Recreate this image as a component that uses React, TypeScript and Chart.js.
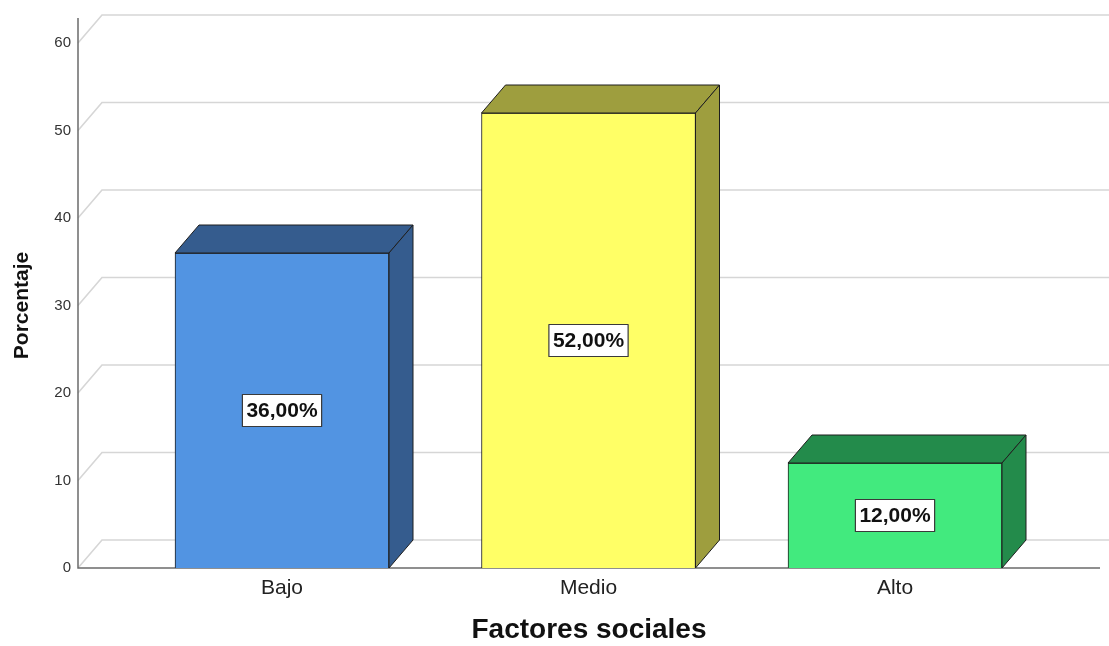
import React, { useEffect, useRef } from "react";
import { Chart, registerables } from "chart.js";

Chart.register(...registerables);

const categories = ["Bajo", "Medio", "Alto"];
const percentages = [36, 52, 12];
const valueLabels = ["36,00%", "52,00%", "12,00%"];
const yTickValues = [0, 10, 20, 30, 40, 50, 60];
const frontColors = ["#5294e2", "#ffff66", "#42ea7e"];
const sideColors = ["#355c8e", "#9e9e3e", "#238b4b"];

const DX = 24;
const DY = 28;
const FONT = "'Liberation Sans', Arial, Helvetica, sans-serif";

const depthPlugin = {
  id: "depth3d",
  beforeDatasetsDraw(chart: any) {
    const { ctx, chartArea, scales } = chart;
    const y = scales.y;
    ctx.save();
    ctx.strokeStyle = "#d6d6d6";
    ctx.lineWidth = 1.6;
    for (const v of yTickValues) {
      const py = y.getPixelForValue(v);
      ctx.beginPath();
      ctx.moveTo(chartArea.left, py);
      ctx.lineTo(chartArea.left + DX, py - DY);
      ctx.lineTo(chart.width, py - DY);
      ctx.stroke();
    }
    ctx.strokeStyle = "#6b6b6b";
    ctx.lineWidth = 1.5;
    ctx.beginPath();
    ctx.moveTo(chartArea.left, y.getPixelForValue(yTickValues[yTickValues.length - 1]) - DY + 3);
    ctx.lineTo(chartArea.left, chartArea.bottom);
    ctx.lineTo(chartArea.right, chartArea.bottom);
    ctx.stroke();
    ctx.restore();
  },
  afterDatasetsDraw(chart: any) {
    const { ctx } = chart;
    const meta = chart.getDatasetMeta(0);
    ctx.save();
    meta.data.forEach((bar: any, i: number) => {
      const { x, y, base, width } = bar.getProps(["x", "y", "base", "width"], true);
      const l = x - width / 2;
      const r = x + width / 2;
      ctx.fillStyle = sideColors[i];
      ctx.strokeStyle = "#1e1e1e";
      ctx.lineWidth = 1;
      ctx.lineJoin = "round";
      // top face
      ctx.beginPath();
      ctx.moveTo(l, y);
      ctx.lineTo(l + DX, y - DY);
      ctx.lineTo(r + DX, y - DY);
      ctx.lineTo(r, y);
      ctx.closePath();
      ctx.fill();
      ctx.stroke();
      // side face
      ctx.beginPath();
      ctx.moveTo(r, y);
      ctx.lineTo(r + DX, y - DY);
      ctx.lineTo(r + DX, base - DY);
      ctx.lineTo(r, base);
      ctx.closePath();
      ctx.fill();
      ctx.stroke();
      // value label
      const cy = (y + base) / 2;
      ctx.font = `bold 21px ${FONT}`;
      const tw = ctx.measureText(valueLabels[i]).width;
      const bw = tw + 8;
      const bh = 32;
      ctx.fillStyle = "#ffffff";
      ctx.fillRect(x - bw / 2, cy - bh / 2, bw, bh);
      ctx.strokeStyle = "#3a3a3a";
      ctx.lineWidth = 1.2;
      ctx.strokeRect(x - bw / 2, cy - bh / 2, bw, bh);
      ctx.fillStyle = "#111111";
      ctx.textAlign = "center";
      ctx.textBaseline = "middle";
      ctx.fillText(valueLabels[i], x, cy + 1);
    });
    ctx.restore();
  },
};

export default function App() {
  const canvasRef = useRef<HTMLCanvasElement | null>(null);

  useEffect(() => {
    const canvas = canvasRef.current;
    if (!canvas) return;
    const chart = new Chart(canvas, {
      type: "bar",
      data: {
        datasets: [
          {
            data: percentages.map((v, i) => ({ x: i, y: v })),
            backgroundColor: frontColors,
            borderColor: "#1e1e1e",
            borderWidth: 1,
            barThickness: 214,
          },
        ],
      },
      options: {
        responsive: false,
        animation: false,
        devicePixelRatio: 1,
        layout: { padding: { left: 0, right: 9, top: 43, bottom: 0 } },
        plugins: {
          legend: { display: false },
          tooltip: { enabled: false },
        },
        scales: {
          x: {
            type: "linear",
            offset: false,
            min: -0.6656,
            max: 2.6688,
            grid: { display: false, drawTicks: false, offset: false },
            border: { display: false },
            afterBuildTicks: (scale: any) => {
              scale.ticks = categories.map((_, i) => ({ value: i }));
            },
            afterFit: (scale: any) => {
              scale.height = 78;
            },
            ticks: {
              padding: 8,
              color: "#222222",
              font: { family: FONT, size: 21 },
              callback: (v: any) => categories[Number(v)] ?? "",
            },
            title: {
              display: true,
              text: "Factores sociales",
              color: "#111111",
              font: { family: FONT, size: 28, weight: "bold", lineHeight: 1.1 },
              padding: { top: 0, bottom: 0 },
            },
          },
          y: {
            min: 0,
            max: 60,
            grid: { display: false, drawTicks: false },
            border: { display: false },
            afterBuildTicks: (scale: any) => {
              scale.ticks = yTickValues.map((v) => ({ value: v }));
            },
            afterFit: (scale: any) => {
              scale.width = 78;
            },
            ticks: {
              padding: 7,
              color: "#333333",
              font: { family: FONT, size: 15 },
            },
            title: {
              display: true,
              text: "Porcentaje",
              color: "#111111",
              font: { family: FONT, size: 21, weight: "bold" },
              padding: { top: 10, bottom: 0 },
            },
          },
        },
      },
      plugins: [depthPlugin],
    } as any);
    return () => chart.destroy();
  }, []);

  return (
    <div style={{ position: "absolute", left: 0, top: 0, width: 1109, height: 646, background: "#ffffff" }}>
      <canvas ref={canvasRef} width={1109} height={646} style={{ display: "block" }} />
    </div>
  );
}
